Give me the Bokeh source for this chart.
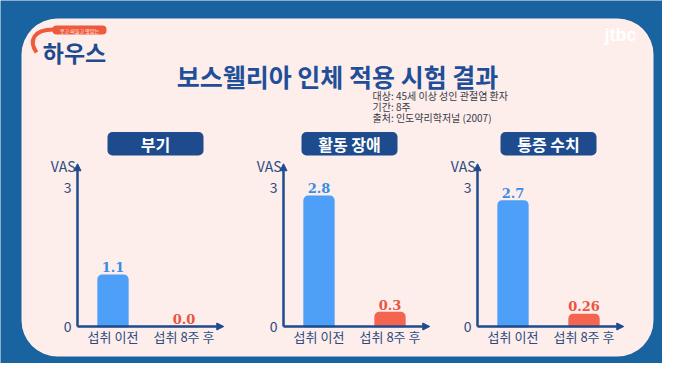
from bokeh.plotting import figure
from bokeh.models import Range1d, BoxAnnotation, Label, Arrow, NormalHead
from bokeh.core.properties import value
from bokeh.embed import file_html
from bokeh.resources import INLINE

# ---------------- data ----------------
main_title = "보스웰리아 인체 적용 시험 결과"
notes = ["대상: 45세 이상 성인 관절염 환자", "기간: 8주", "출처: 인도약리학저널 (2007)"]
categories = ["섭취 이전", "섭취 8주 후"]
chart_titles = ["부기", "활동 장애", "통증 수치"]
before = [1.1, 2.8, 2.7]
after = [0.0, 0.3, 0.26]
before_labels = ["1.1", "2.8", "2.7"]
after_labels = ["0.0", "0.3", "0.26"]
y_ticks = [0, 3]
y_label = "VAS"

# ---------------- style ----------------
FONT = "Noto Sans CJK KR"
BLUE_BG = "#1963a0"
PINK = "#fdeeec"
NAVY = "#1d4b8e"
TITLE_C = "#1f4f99"
BAR_BLUE = "#4d9ff7"
BAR_RED = "#f4644e"
LBL_BLUE = "#3a8de3"
LBL_RED = "#e9553f"
TXT = "#2c4c7e"

W, H = 662, 363
def Y(yw):  # picture y (from top) -> main data y
    return H - yw

p = figure(width=W, height=H, x_range=Range1d(0, W), y_range=Range1d(0, H),
           x_axis_type=None, y_axis_type=None, output_backend="svg",
           toolbar_location=None, min_border=0,
           background_fill_color=BLUE_BG, border_fill_color=BLUE_BG,
           outline_line_color=None)

# pink panel
p.add_layout(BoxAnnotation(left=21, right=653, top=Y(18), bottom=Y(356),
                           fill_color=PINK, fill_alpha=1, line_color=None,
                           border_radius=36, level="underlay"))

# logo (decorative)
p.add_layout(BoxAnnotation(left=52, right=106, top=Y(25), bottom=Y(34),
                           fill_color="#ee5a3c", fill_alpha=1, line_color=None,
                           border_radius=4, level="underlay"))
p.add_layout(Label(x=79, y=Y(29.5), text="웃고 떠들고 맛있는", text_font=FONT,
                   text_font_size="5px", text_color="white",
                   text_align="center", text_baseline="middle"))
p.bezier(x0=[53], y0=[Y(29)], x1=[36], y1=[Y(52)], cx0=[33], cy0=[Y(29)],
         cx1=[28], cy1=[Y(40)], line_color="#ee5a3c", line_width=4)
p.add_layout(Label(x=74, y=Y(51), text="하우스", text_font=FONT,
                   text_font_style="bold", text_font_size="23px",
                   text_color=NAVY, text_align="center", text_baseline="middle"))
p.add_layout(Label(x=620, y=Y(34), text="jtbc", text_font="Liberation Sans",
                   text_font_style="bold", text_font_size="18px",
                   text_color="white", text_align="center", text_baseline="middle"))

# main title and notes
p.add_layout(Label(x=337, y=Y(75), text=main_title, text_font=FONT,
                   text_font_style="bold", text_font_size="25px",
                   text_color=TITLE_C, text_align="center", text_baseline="middle"))
for i, t in enumerate(notes):
    p.add_layout(Label(x=372, y=Y(95 + 11 * i), text=t, text_font=FONT,
                       text_font_size="10px", text_color="#3a3a48",
                       text_align="left", text_baseline="middle"))

# ---------------- charts ----------------
origins = [77, 283, 477]
OY = 326
XK, YK = 71.0, 46.5
title_centers = [155, 349, 548]
xs = [0.5, 1.5]

for i in range(3):
    ox = origins[i]
    xn, yn = f"x{i}", f"y{i}"
    p.extra_x_ranges[xn] = Range1d((0 - ox) / XK, (W - ox) / XK)
    p.extra_y_ranges[yn] = Range1d((OY - H) / YK, OY / YK)

    # title box
    tc = title_centers[i]
    p.add_layout(BoxAnnotation(left=tc - 48, right=tc + 48, top=Y(131.5), bottom=Y(155),
                               fill_color=NAVY, fill_alpha=1, line_color=None,
                               border_radius=5, level="underlay"))
    p.add_layout(Label(x=tc, y=Y(143.5), text=chart_titles[i], text_font=FONT,
                       text_font_style="bold", text_font_size="16px",
                       text_color="white", text_align="center", text_baseline="middle"))

    vals = [before[i], after[i]]
    labs = [before_labels[i], after_labels[i]]
    p.vbar(x=xs, top=vals, bottom=0, width=0.42,
           fill_color=[BAR_BLUE, BAR_RED], line_color=[BAR_BLUE, BAR_RED],
           line_width=1.5, border_radius=[4, 4, 0, 0],
           x_range_name=xn, y_range_name=yn)
    p.text(x=xs, y=vals, text=labs, text_color=[LBL_BLUE, LBL_RED],
           text_font=value("DejaVu Serif"), text_font_style="bold",
           text_font_size="13px", text_align="center", text_baseline="middle",
           y_offset=-8, x_range_name=xn, y_range_name=yn)

    # axes drawn as arrows
    p.add_layout(Arrow(x_start=0, y_start=0, x_end=0, y_end=3.5,
                       line_color=NAVY, line_width=2.5,
                       end=NormalHead(size=7, fill_color=NAVY, line_color=NAVY),
                       x_range_name=xn, y_range_name=yn))
    p.add_layout(Arrow(x_start=0, y_start=0, x_end=2.06, y_end=0,
                       line_color=NAVY, line_width=2.5,
                       end=NormalHead(size=7, fill_color=NAVY, line_color=NAVY),
                       x_range_name=xn, y_range_name=yn))

    # tick labels, axis label, category labels
    p.text(x=[0] * len(y_ticks), y=y_ticks, text=[str(t) for t in y_ticks],
           text_color=TXT, text_font=value(FONT), text_font_size="14px",
           text_align="right", text_baseline="middle", x_offset=-6,
           x_range_name=xn, y_range_name=yn)
    p.text(x=[0], y=[3.45], text=[y_label], text_color=TXT,
           text_font=value(FONT), text_font_size="14px",
           text_align="right", text_baseline="middle", x_offset=-2,
           x_range_name=xn, y_range_name=yn)
    p.text(x=xs, y=[0, 0], text=categories, text_color=TXT,
           text_font=value(FONT), text_font_size="13px",
           text_align="center", text_baseline="middle", y_offset=10,
           x_range_name=xn, y_range_name=yn)

open("out.html", "w").write(file_html(p, INLINE))
